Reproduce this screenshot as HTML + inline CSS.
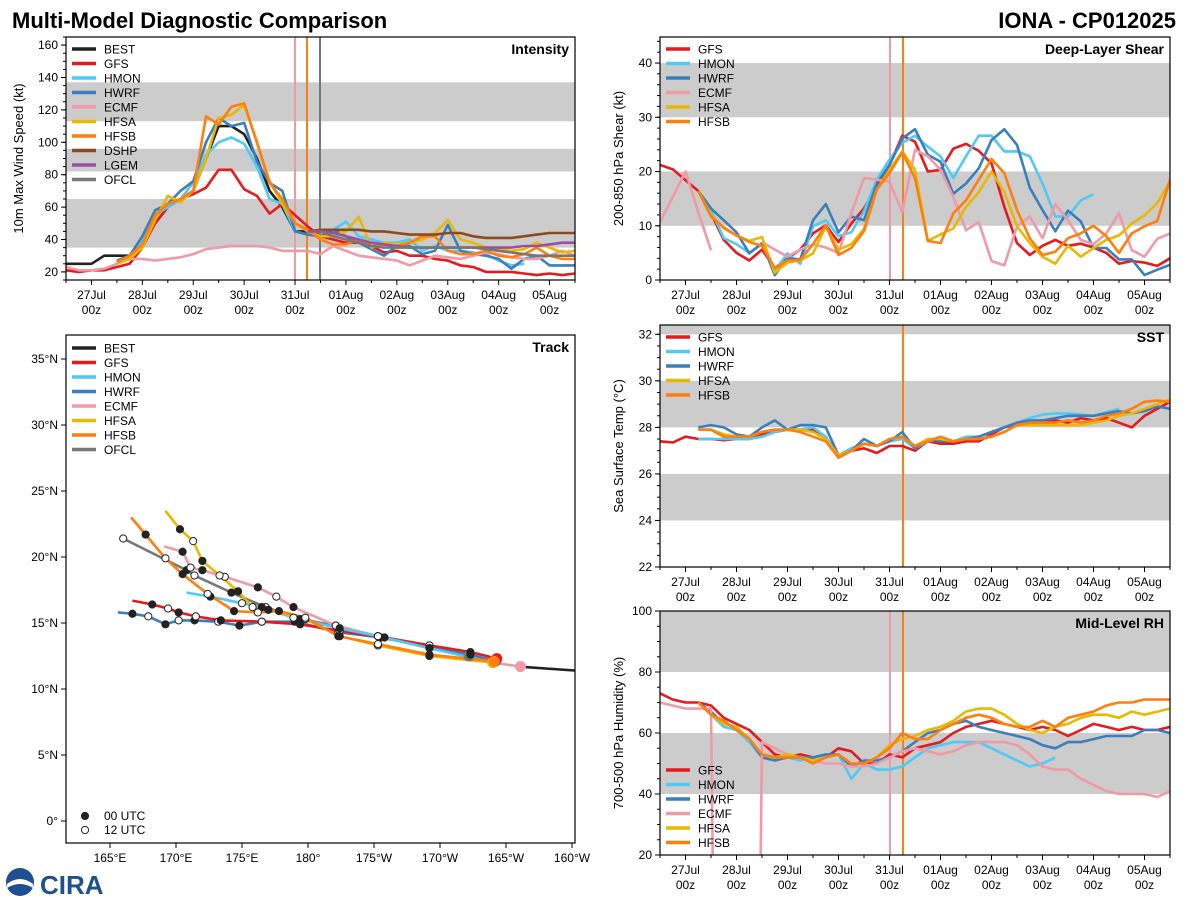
<!DOCTYPE html>
<html><head><meta charset="utf-8"><style>
html,body{margin:0;padding:0;background:#fff;width:1200px;height:900px;overflow:hidden;}
svg{display:block;font-family:"Liberation Sans","DejaVu Sans",sans-serif;}
</style></head><body>
<svg id="root" width="1200" height="900" viewBox="0 0 1200 900">
<text x="12" y="28" font-size="22" font-weight="bold">Multi-Model Diagnostic Comparison</text>
<text x="1176" y="28" font-size="22" font-weight="bold" text-anchor="end">IONA - CP012025</text>
<g>
<circle cx="20" cy="882" r="14" fill="#1d4f91"/><path d="M7 884 Q20 874 33 884 L33 888 Q20 880 7 888Z" fill="#fff"/>
<text x="40" y="894" font-size="26" font-weight="bold" fill="#1d4f91">CIRA</text>
</g>
</svg>
<script>
const NS="http://www.w3.org/2000/svg";
const root=document.getElementById('root');
const models=["BEST","GFS","HMON","HWRF","ECMF","HFSA","HFSB","DSHP","LGEM","OFCL"];
const colors={BEST:"#222",GFS:"#e8191c",HMON:"#4fc9f5",HWRF:"#3a7fbd",ECMF:"#f09aa8",HFSA:"#e9b800",HFSB:"#ff7f0e",DSHP:"#8c4a23",LGEM:"#9a4fa6",OFCL:"#777"};
const dayLabels=["27Jul","28Jul","29Jul","30Jul","31Jul","01Aug","02Aug","03Aug","04Aug","05Aug"];
const N=null;
// Intensity (kt), 6-hourly from 26Jul 12z
const intBEST=[25,25,25,30,30,30,40,50,60,65,70,90,110,110,105,90,70,60,45,45];
const intGFS=[21,20,21,21,23,25,35,50,60,65,68,72,83,83,71,67,56,62,55,48,42,40,38,38,36,32,33,30,30,28,27,24,23,20,20,20,19,18,19,18,19];
const intHMON=[N,N,N,N,26,28,40,55,60,65,75,92,100,103,99,85,65,62,45,43,42,46,51,42,40,38,38,40,33,36,33,33,32,31,27,24,25];
const intHWRF=[N,N,N,N,27,30,42,58,62,70,76,100,115,110,112,88,75,70,45,43,42,46,42,38,34,30,36,36,31,33,49,33,31,30,28,22,28,30,24,24,24];
const intECMF=[23,21,21,22,25,28,28,27,28,29,31,34,35,36,36,36,35,33,33,33,31,36,33,30,29,28,27,24,27,30,29,28,30,32,31,29,28,28,30,33,30];
const intHFSA=[N,N,N,N,25,28,35,52,67,63,70,90,115,117,123,100,76,62,50,45,42,42,45,54,35,38,37,38,40,44,52,40,38,35,34,33,34,38,35,32,33];
const intHFSB=[N,N,N,N,26,30,37,55,62,65,70,116,111,122,124,100,75,65,50,46,40,37,37,40,36,37,36,38,42,42,33,31,31,33,30,29,31,35,30,28,28];
const intDSHP=[N,N,N,N,N,N,N,N,N,N,N,N,N,N,N,N,N,N,N,45,46,46,46,46,45,45,44,43,43,43,44,44,42,41,41,41,42,43,44,44,44];
const intLGEM=[N,N,N,N,N,N,N,N,N,N,N,N,N,N,N,N,N,N,N,45,45,44,42,40,38,37,36,35,35,35,35,35,35,35,35,35,36,36,37,38,38];
const intOFCL=[N,N,N,N,N,N,N,N,N,N,N,N,N,N,N,N,N,N,N,N,45,42,40,38,36,35,35,35,35,35,35,35,35,34,33,32,31,30,30,30,30];
// Shear (kt)
const shGFS=[21.2,20.4,18.4,16.4,12.3,7.4,5,3.6,5.6,2.2,4,5.6,8.6,10.1,7,10.4,13.2,17.2,21.2,26.6,25.5,20,20.3,24.2,25.1,23.8,21.5,13.5,6.8,4.6,6.3,7.4,6.3,6.7,6,5,3,3.5,3.2,2.6,4];
const shHMON=[N,N,N,16.4,12.9,7.7,6.6,5,6.6,1.7,4.9,3,9.9,11,8.1,8.8,12.7,18.5,22.2,25.3,26.6,24.6,22.8,18.8,22.8,26.6,26.6,23.7,23.7,22.8,17.8,11.7,11.7,14.7,15.8];
const shHWRF=[N,N,N,16.4,13.2,11,8.8,4.9,6.8,0.9,4,3.8,11,14,8.8,11.7,11,17.8,21.2,26.1,27.8,23.1,21.8,15.9,17.8,20.6,25.8,27.8,24.9,17,12.9,9,12.8,10.8,5.9,5.9,3.8,3.8,0.9,1.9,2.8];
const shECMF=[10.7,15.3,20,12.5,5.5,N,N,N,7,5.6,4.3,5.6,6.6,6,5,12.3,18.8,18.5,18.1,12.5,24,22.8,20.3,15.3,9.2,10.7,3.5,2.7,9.9,11.7,7.7,14,11,7.4,6.6,8.6,12.3,5.5,4.3,7.6,8.6];
const shHFSA=[N,N,N,16.4,12,9.5,8.2,7.2,7.9,1.3,3.2,3.6,4.9,9.9,5.6,6.6,9.4,16.7,20.3,23.7,20.3,7.2,8.4,9.5,13.5,16.2,20,16.2,9.9,6.8,4.3,3,6.3,4.3,5.9,7.4,8.2,10.4,11.9,14.2,18.2];
const shHFSB=[N,N,N,16.4,11.7,9.7,8.2,7,6.3,2.2,3.6,3.7,6.6,10.1,4.6,5.9,9,16.7,19.7,23.5,18.8,7.2,6.8,12.3,14.7,18.5,22.3,19.7,12.9,7.7,4.6,5.2,7.7,8.6,10,8.1,5,8.6,9.9,10.9,18.5];
// SST (C)
const sstGFS=[27.4,27.35,27.6,27.5,27.5,27.45,27.5,27.5,27.7,27.8,27.9,27.9,27.9,27.5,26.7,27.0,27.1,26.9,27.2,27.2,27.0,27.4,27.3,27.3,27.4,27.4,27.7,28.0,28.1,28.2,28.3,28.3,28.2,28.4,28.3,28.4,28.2,28.0,28.5,28.8,29.1];
const sstHMON=[N,N,N,27.5,27.5,27.5,27.5,27.5,27.6,27.8,27.9,27.9,28.0,27.6,26.8,27.1,27.3,27.2,27.4,27.5,27.1,27.4,27.5,27.4,27.6,27.6,27.8,28.0,28.2,28.4,28.55,28.6,28.6,28.55,28.5,28.65,28.8];
const sstHWRF=[N,N,N,28.0,28.1,28.0,27.7,27.6,28.0,28.3,27.9,28.1,28.1,28.0,26.8,27.0,27.5,27.2,27.4,27.8,27.1,27.5,27.4,27.4,27.5,27.6,27.8,28.0,28.2,28.3,28.3,28.4,28.5,28.5,28.5,28.6,28.7,28.6,28.7,28.9,28.8];
const sstHFSA=[N,N,N,27.9,27.9,27.7,27.6,27.6,27.8,27.9,27.9,27.9,27.8,27.5,26.8,27.0,27.3,27.2,27.5,27.6,27.2,27.5,27.5,27.4,27.5,27.5,27.6,27.8,28.1,28.1,28.1,28.1,28.1,28.1,28.2,28.3,28.5,28.6,28.8,29.0,29.2];
const sstHFSB=[N,N,N,27.9,27.9,27.6,27.6,27.6,27.8,27.9,27.9,27.8,27.6,27.4,26.7,27.0,27.3,27.2,27.5,27.6,27.2,27.4,27.6,27.4,27.5,27.5,27.6,27.8,28.1,28.2,28.2,28.2,28.3,28.2,28.3,28.5,28.6,28.8,29.1,29.15,29.1];
// RH (%)
const rhGFS=[73,71,70,70,69,65,63,61,57,53,52,53,52,52,55,54,50,50,53,52,55,56,57,60,62,63,64,63,62,61,62,61,59,61,63,62,61,62,61,61,62];
const rhHMON=[N,N,N,70,66,62,61,57,52,51,52,51,52,52,53,45,50,48,48,49,52,55,56,57,57,57,55,53,51,49,50,52];
const rhHWRF=[N,N,N,70,67,63,62,58,52,51,52,52,52,53,53,49,51,51,52,54,57,60,61,63,64,62,61,60,59,58,56,55,57,57,58,59,59,59,61,61,60];
const rhECMF=[70,69,68,68,68,-300,N,-300,57,55,53,52,51,50,50,49,49,50,52,54,55,54,53,54,56,57,57,57,56,53,49,48,48,45,43,41,40,40,40,39,41];
const rhHFSA=[N,N,N,70,66,63,62,58,53,52,53,52,51,52,53,50,50,52,56,58,59,61,62,64,67,68,68,66,63,61,60,62,63,65,66,66,65,67,66,67,68];
const rhHFSB=[N,N,N,70,66,64,61,58,53,52,52,52,50,52,53,50,50,52,55,60,58,58,61,63,65,66,65,63,62,62,64,62,65,66,67,69,70,70,71,71,71];
// Track (lon deg E, lat deg N)
const trBEST_lon=[195.9,200.2], trBEST_lat=[11.7,11.4];
const trGFS_lon=[166.7,168.2,169.4,170.2,171.5,173.4,176.5,179.4,182.4,185.8,189.2,192.3,194.3];
const trGFS_lat=[16.7,16.4,16.1,15.8,15.5,15.2,15.1,14.9,14.4,13.9,13.3,12.8,12.3];
const trHMON_lon=[170.8,172.6,175.0,176.5,178.9,182.4,185.3,189.2,194.0];
const trHMON_lat=[17.3,17.0,16.5,16.2,15.4,14.6,14.0,13.1,12.0];
const trHWRF_lon=[165.6,166.7,167.9,169.2,170.2,171.4,173.2,174.8,176.5,179.0,182.3,185.5,189.2,192.3,194.2];
const trHWRF_lat=[15.8,15.7,15.5,14.9,15.2,15.2,15.1,14.8,15.1,15.1,14.3,13.9,13.2,12.6,12.1];
const trECMF_lon=[169.1,170.5,171.1,172.0,173.7,176.2,177.6,178.9,182.1,185.3,189.2,194.0,196.1];
const trECMF_lat=[20.8,20.4,19.2,19.0,18.5,17.7,17.0,16.2,14.8,14.0,13.3,12.0,11.7];
const trHFSA_lon=[169.2,170.3,171.3,172.0,173.3,174.7,175.8,177.0,179.8,182.4,185.3,189.2,194.0];
const trHFSA_lat=[23.5,22.1,21.2,19.7,18.6,17.4,16.2,16.0,15.3,14.0,13.3,12.5,12.0];
const trHFSB_lon=[166.6,167.7,169.2,170.5,172.4,174.4,176.2,177.8,179.8,182.3,185.3,189.2,194.1];
const trHFSB_lat=[23.0,21.7,19.9,18.7,17.2,15.9,15.8,15.9,15.4,14.0,13.4,12.6,12.1];
const trOFCL_lon=[166.0,170.8,171.4,174.2,176.8,179.4,182.1,185.3,189.2,192.2];
const trOFCL_lat=[21.4,19.0,18.6,17.3,16.2,15.3,14.8,14.0,13.1,12.5];
const lonTicks=["165°E","170°E","175°E","180°","175°W","170°W","165°W","160°W"];
const latTicks=["0°","5°N","10°N","15°N","20°N","25°N","30°N","35°N"];

function el(tag,attrs,parent){const e=document.createElementNS(NS,tag);for(const k in attrs)e.setAttribute(k,attrs[k]);(parent||root).appendChild(e);return e;}
function txt(s,attrs,parent){const e=el('text',attrs,parent);e.textContent=s;return e;}
let clipId=0;
function tsPanel(p){
  const g=el('g',{});
  
  
  const W=p.x1-p.x0;
  const xs=i=>p.x0+i*6*W/240;
  const ys=v=>p.y1-(v-p.vmin)*(p.y1-p.y0)/(p.vmax-p.vmin);
  for(const b of p.bands){const r=el('rect',{x:p.x0,y:ys(Math.min(b[1],p.vmax)),width:W,height:ys(b[0])-ys(Math.min(b[1],p.vmax)),fill:'#cccccc'},g);
    }
  const cid='c'+(clipId++);
  const cp=el('clipPath',{id:cid},g);el('rect',{x:p.x0,y:p.y0,width:W,height:p.y1-p.y0},cp);
  const lg=el('g',{'clip-path':'url(#'+cid+')'},g);
  for(const v of p.vlines){const l=el('line',{x1:v[0],x2:v[0],y1:p.y0,y2:p.y1,stroke:v[1],'stroke-width':2},lg);
    }
  for(const s of p.series){
    let d='',pen=false;
    s.data.forEach((v,i)=>{if(v===null){pen=false;return;}d+=(pen?'L':'M')+xs(i).toFixed(1)+' '+ys(v).toFixed(1);pen=true;});
    const path=el('path',{d:d,fill:'none',stroke:colors[s.m],'stroke-width':2.6,'stroke-linejoin':'round'},lg);
    
    
  }
  el('rect',{x:p.x0,y:p.y0,width:W,height:p.y1-p.y0,fill:'none',stroke:'#000','stroke-width':1.2},g);
  for(const t of p.yticks){const y=ys(t);el('line',{x1:p.x0-5,x2:p.x0,y1:y,y2:y,stroke:'#000'},g);
    const tl=txt(String(t),{x:p.x0-8,y:y+4,'font-size':12,'text-anchor':'end'},g);
    }
  for(let v=p.vmin;v<=p.vmax;v+=p.minor){const y=ys(v);el('line',{x1:p.x0-3,x2:p.x0,y1:y,y2:y,stroke:'#000'},g);}
  for(let i=0;i<=20;i++){const x=p.x0+i*12*W/240;const maj=(i%2===1);
    el('line',{x1:x,x2:x,y1:p.y1,y2:p.y1+(maj?5:3),stroke:'#000'},g);
    if(maj){const k=(i-1)/2;
      const a=txt(dayLabels[k],{x:x,y:p.y1+19,'font-size':12,'text-anchor':'middle'},g);
      
      const b=txt('00z',{x:x,y:p.y1+34,'font-size':12,'text-anchor':'middle'},g);
      }}
  const cy=(p.y0+p.y1)/2;
  const yl=txt(p.ylabel,{x:p.labx,y:cy,'font-size':13,'text-anchor':'middle',transform:'rotate(-90 '+p.labx+' '+cy+')'},g);
  
  const tt=txt(p.title,{x:p.x1-6,y:p.y0+17,'font-size':14,'font-weight':'bold','text-anchor':'end'},g);
  
  legend(g,p.x0+6,p.legY,p.series.map(s=>s.m));
}
function legend(g,x,y,names){
  const lg=el('g',{},g);
  
  names.forEach((m,i)=>{const yy=y+i*14.5;
    const l=el('line',{x1:x,x2:x+24,y1:yy,y2:yy,stroke:colors[m],'stroke-width':3.5},lg);
    
    const t=txt(m,{x:x+32,y:yy+4.5,'font-size':12},lg);
    });
}
tsPanel({name:'intensity-panel',x0:66,x1:575,y0:37,y1:280,vmin:15,vmax:165,bands:[[35,65],[82,96],[113,137]],
  yticks:[20,40,60,80,100,120,140,160],minor:5,ylabel:'10m Max Wind Speed (kt)',labx:23,title:'Intensity',
  vlines:[[295,'#f09aa8'],[307,'#ff7f0e'],[320,'#777']],legY:49,
  series:[{m:'ECMF',data:intECMF},{m:'DSHP',data:intDSHP},{m:'LGEM',data:intLGEM},{m:'OFCL',data:intOFCL},{m:'GFS',data:intGFS},{m:'HMON',data:intHMON},{m:'HWRF',data:intHWRF},{m:'HFSA',data:intHFSA},{m:'HFSB',data:intHFSB},{m:'BEST',data:intBEST}]
   .sort((a,b)=>models.indexOf(a.m)-models.indexOf(b.m))});
tsPanel({name:'shear-panel',x0:660,x1:1170,y0:37,y1:280,vmin:0,vmax:44.8,bands:[[10,20],[30,40]],
  yticks:[0,10,20,30,40],minor:2,ylabel:'200-850 hPa Shear (kt)',labx:623,title:'Deep-Layer Shear',
  vlines:[[890,'#f09aa8'],[903,'#ff7f0e']],legY:49,
  series:[{m:'GFS',data:shGFS},{m:'HMON',data:shHMON},{m:'HWRF',data:shHWRF},{m:'ECMF',data:shECMF},{m:'HFSA',data:shHFSA},{m:'HFSB',data:shHFSB}]});
tsPanel({name:'sst-panel',x0:660,x1:1170,y0:325,y1:567,vmin:22,vmax:32.4,bands:[[24,26],[28,30],[32,33]],
  yticks:[22,24,26,28,30,32],minor:0.5,ylabel:'Sea Surface Temp (°C)',labx:623,title:'SST',
  vlines:[[903,'#ff7f0e']],legY:337,
  series:[{m:'GFS',data:sstGFS},{m:'HMON',data:sstHMON},{m:'HWRF',data:sstHWRF},{m:'HFSA',data:sstHFSA},{m:'HFSB',data:sstHFSB}]});
tsPanel({name:'rh-panel',x0:660,x1:1170,y0:611,y1:855,vmin:20,vmax:100,bands:[[40,60],[80,100]],
  yticks:[20,40,60,80,100],minor:5,ylabel:'700-500 hPa Humidity (%)',labx:623,title:'Mid-Level RH',
  vlines:[[890,'#f09aa8'],[903,'#ff7f0e']],legY:770,
  series:[{m:'GFS',data:rhGFS},{m:'HMON',data:rhHMON},{m:'HWRF',data:rhHWRF},{m:'ECMF',data:rhECMF},{m:'HFSA',data:rhHFSA},{m:'HFSB',data:rhHFSB}]});

// Track panel
(function(){
  const g=el('g',{});
  
  
  const x0=66,x1=575,y0=335,y1=843;
  const lx=lon=>110+(lon-165)*13.2;
  const ly=lat=>821-lat*13.2;
  const cp=el('clipPath',{id:'trk'},g);el('rect',{x:x0,y:y0,width:x1-x0,height:y1-y0},cp);
  const lg=el('g',{'clip-path':'url(#trk)'},g);
  const tracks=[['OFCL',trOFCL_lon,trOFCL_lat],['ECMF',trECMF_lon,trECMF_lat],['HWRF',trHWRF_lon,trHWRF_lat],['GFS',trGFS_lon,trGFS_lat],['HMON',trHMON_lon,trHMON_lat],['HFSA',trHFSA_lon,trHFSA_lat],['HFSB',trHFSB_lon,trHFSB_lat],['BEST',trBEST_lon,trBEST_lat]];
  for(const [m,lo,la] of tracks){
    const d=lo.map((v,i)=>(i?'L':'M')+lx(v).toFixed(1)+' '+ly(la[i]).toFixed(1)).join('');
    const p=el('path',{d:d,fill:'none',stroke:colors[m],'stroke-width':2.6},lg);
    
    
  }
  for(const [m,lo,la] of tracks){
    if(m==='BEST')continue;
    lo.forEach((v,i)=>{
      const last=i===lo.length-1;
      if(i===0&&m!=='OFCL')return;
      let fill=last?colors[m]:((i%2===1)?'#222':'#fff');
      if(m==='OFCL'&&!last)fill=(i%2===0)?'#fff':'#222';
      const c=el('circle',{cx:lx(v),cy:ly(la[i]),r:last?5:3.6,fill:fill,stroke:last?colors[m]:'#222','stroke-width':1},lg);
      
      
    });
  }
  el('rect',{x:x0,y:y0,width:x1-x0,height:y1-y0,fill:'none',stroke:'#000','stroke-width':1.2},g);
  lonTicks.forEach((t,i)=>{const x=lx(165+5*i);el('line',{x1:x,x2:x,y1:y1,y2:y1+5,stroke:'#000'},g);
    const tl=txt(t,{x:x,y:y1+19,'font-size':12,'text-anchor':'middle'},g);
    });
  latTicks.forEach((t,i)=>{const y=ly(5*i);el('line',{x1:x0-5,x2:x0,y1:y,y2:y,stroke:'#000'},g);
    const tl=txt(t,{x:x0-8,y:y+4,'font-size':12,'text-anchor':'end'},g);
    });
  const tt=txt('Track',{x:x1-6,y:y0+17,'font-size':14,'font-weight':'bold','text-anchor':'end'},g);
  
  legend(g,72,348,['BEST','GFS','HMON','HWRF','ECMF','HFSA','HFSB','OFCL']);
  const m1=el('circle',{cx:85,cy:816,r:3.6,fill:'#222',stroke:'#222'},g);
  
  const t1=txt('00 UTC',{x:104,y:820,'font-size':12},g);
  
  const m2=el('circle',{cx:85,cy:830,r:3.6,fill:'#fff',stroke:'#222'},g);
  
  const t2=txt('12 UTC',{x:104,y:834,'font-size':12},g);
  
})();
</script>
</body></html>
